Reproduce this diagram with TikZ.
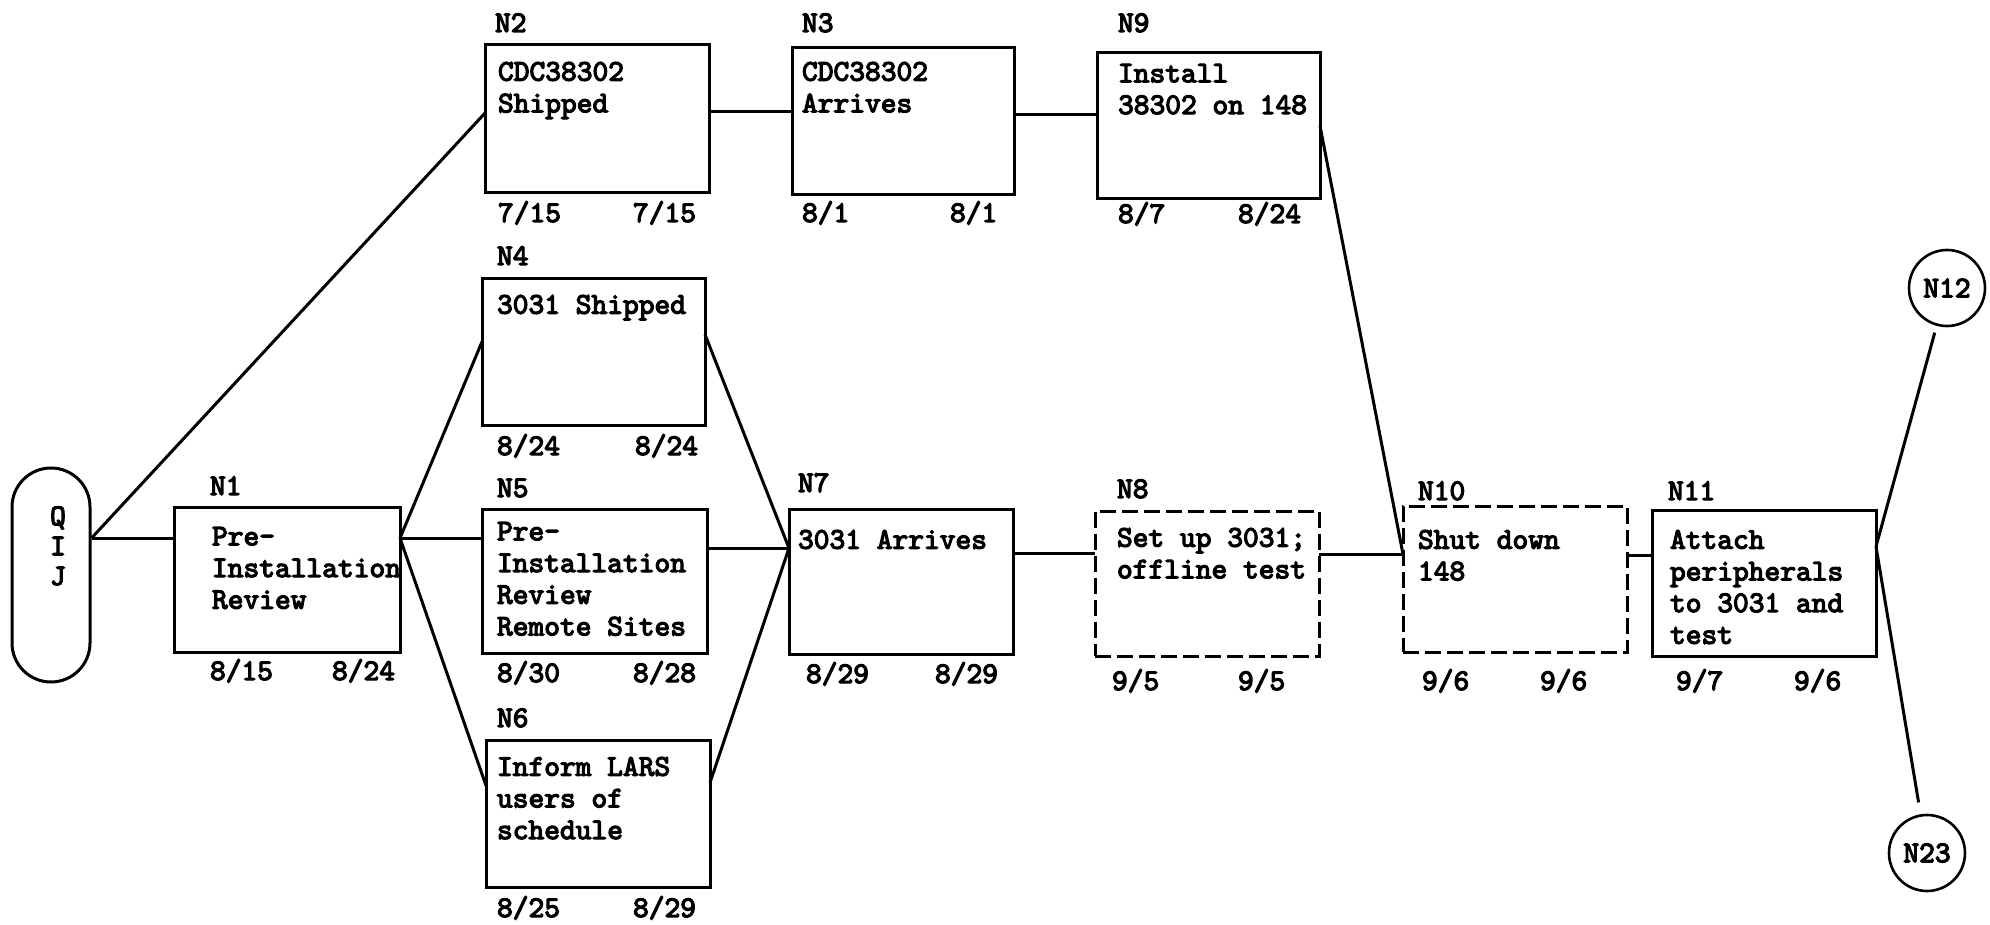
\documentclass[tikz,border=0pt]{standalone}
\usepackage{fontspec}
\usetikzlibrary{calc}
\newfontfamily\typew{lmmono10-regular.otf}[FakeBold=4]
\newcommand\boxfont{\typew\fontsize{30}{31.7}\selectfont}
\begin{document}
\begin{tikzpicture}[x=1pt,y=-1pt,
  box/.style={draw, line width=3pt, inner sep=0pt, outer sep=0pt, anchor=north west},
  dbox/.style={box, dash pattern=on 16pt off 6pt},
  txt/.style={inner sep=0pt, outer sep=0pt, anchor=north west, align=left, font=\boxfont},
  lbl/.style={inner sep=0pt, outer sep=0pt, anchor=base west, font=\boxfont},
  conn/.style={line width=3pt},
  event/.style={circle, draw, line width=2.6pt, minimum size=76pt, inner sep=0pt, font=\boxfont},
  capsule/.style={draw, line width=3pt, rounded corners=39pt, minimum width=78pt, minimum height=214pt, inner sep=0pt}]
\useasboundingbox (0,0) rectangle (1990,925);

% start capsule
\node[capsule] (qij) at (51,575) {};
\node[font=\typew\fontsize{30}{30}\selectfont, align=center, inner sep=0pt] (qijt) at (58,546) {Q\\I\\J};

% N1
\node[box, minimum width=226pt, minimum height=145pt] (n1) at (174,507) {};
\node[lbl] (n1l) at (210,495) {N1};
\node[txt] (n1t) at (212,527) {Pre-\\Installation\\Review};
\node[lbl] (n1a) at (210,680) {8/15};
\node[lbl] (n1b) at (332,680) {8/24};

% N2
\node[box, minimum width=224pt, minimum height=148pt] (n2) at (485,45) {};
\node[lbl] (n2l) at (495,32) {N2};
\node[txt] (n2t) at (498,62) {CDC38302\\Shipped};
\node[lbl] (n2a) at (498,222) {7/15};
\node[lbl] (n2b) at (633,222) {7/15};

% N3
\node[box, minimum width=222pt, minimum height=147pt] (n3) at (792,48) {};
\node[lbl] (n3l) at (802,32) {N3};
\node[txt] (n3t) at (802,62) {CDC38302\\Arrives};
\node[lbl] (n3a) at (802,222) {8/1};
\node[lbl] (n3b) at (950,222) {8/1};

% N9
\node[box, minimum width=223pt, minimum height=146pt] (n9) at (1097,53) {};
\node[lbl] (n9l) at (1118,32) {N9};
\node[txt] (n9t) at (1118,64) {Install\\38302 on 148};
\node[lbl] (n9a) at (1118,223) {8/7};
\node[lbl] (n9b) at (1238,223) {8/24};

% N4
\node[box, minimum width=223pt, minimum height=146pt] (n4) at (482,279) {};
\node[lbl] (n4l) at (497,265) {N4};
\node[txt] (n4t) at (497,295) {3031 Shipped};
\node[lbl] (n4a) at (497,455) {8/24};
\node[lbl] (n4b) at (635,455) {8/24};

% N5
\node[box, minimum width=225pt, minimum height=144pt] (n5) at (482,509) {};
\node[lbl] (n5l) at (497,497) {N5};
\node[txt] (n5t) at (497,522) {Pre-\\Installation\\Review\\Remote Sites};
\node[lbl] (n5a) at (497,682) {8/30};
\node[lbl] (n5b) at (633,682) {8/28};

% N6
\node[box, minimum width=224pt, minimum height=147pt] (n6) at (486,740) {};
\node[lbl] (n6l) at (497,727) {N6};
\node[txt] (n6t) at (497,757) {Inform LARS\\users of\\schedule};
\node[lbl] (n6a) at (497,917) {8/25};
\node[lbl] (n6b) at (633,917) {8/29};

% N7
\node[box, minimum width=224pt, minimum height=145pt] (n7) at (789,509) {};
\node[lbl] (n7l) at (798,492) {N7};
\node[txt] (n7t) at (798,530) {3031 Arrives};
\node[lbl] (n7a) at (806,683) {8/29};
\node[lbl] (n7b) at (935,683) {8/29};

% N8
\node[dbox, minimum width=224pt, minimum height=145pt] (n8) at (1095,511) {};
\node[lbl] (n8l) at (1117,498) {N8};
\node[txt] (n8t) at (1117,528) {Set up 3031;\\offline test};
\node[lbl] (n8a) at (1112,690) {9/5};
\node[lbl] (n8b) at (1238,690) {9/5};

% N10
\node[dbox, minimum width=224pt, minimum height=146pt] (n10) at (1403,506) {};
\node[lbl] (n10l) at (1418,500) {N10};
\node[txt] (n10t) at (1418,530) {Shut down\\148};
\node[lbl] (n10a) at (1422,690) {9/6};
\node[lbl] (n10b) at (1540,690) {9/6};

% N11
\node[box, minimum width=224pt, minimum height=146pt] (n11) at (1652,510) {};
\node[lbl] (n11l) at (1668,500) {N11};
\node[txt] (n11t) at (1670,530) {Attach\\peripherals\\to 3031 and\\test};
\node[lbl] (n11a) at (1676,690) {9/7};
\node[lbl] (n11b) at (1794,690) {9/6};

% end events
\node[event] (n12) at (1947,288) {N12};
\node[event] (n23) at (1927,853) {N23};

% connection points
\coordinate (qj) at ($(qij.north east)!0.33!(qij.south east)$);
\coordinate (n1o) at (n1.east |- qj);
\coordinate (n7i) at ($(n7.north west)!0.27!(n7.south west)$);
\coordinate (n10i) at ($(n10.north west)!0.33!(n10.south west)$);
\coordinate (n11o) at ($(n11.north east)!0.25!(n11.south east)$);

% connectors
\draw[conn] (qj) -- (qj -| n1.west);
\draw[conn] (qj) -- ($(n2.north west)!0.46!(n2.south west)$);
\draw[conn] (n1o) -- ($(n4.north west)!0.43!(n4.south west)$);
\draw[conn] (n1o) -- (n1o -| n5.west);
\draw[conn] (n1o) -- ($(n6.north west)!0.31!(n6.south west)$);
\draw[conn] ($(n2.north east)!0.45!(n2.south east)$) coordinate (c23) -- (c23 -| n3.west);
\draw[conn] ($(n3.north east)!0.45!(n3.south east)$) coordinate (c39) -- (c39 -| n9.west);
\draw[conn] ($(n4.north east)!0.38!(n4.south east)$) -- (n7i);
\draw[conn] (n7i -| n5.east) -- (n7i);
\draw[conn] ($(n6.north east)!0.29!(n6.south east)$) -- (n7i);
\draw[conn] ($(n7.north east)!0.31!(n7.south east)$) coordinate (c78) -- (c78 -| n8.west);
\draw[conn] (n10i -| n8.east) -- (n10i);
\draw[conn] ($(n9.north east)!0.5!(n9.south east)$) -- (n10i);
\draw[conn] ($(n10.north east)!0.34!(n10.south east)$) coordinate (c1011) -- (c1011 -| n11.west);
\draw[conn, shorten >=7pt] (n11o) -- (n12);
\draw[conn, shorten >=12pt] (n11o) -- (n23);
\end{tikzpicture}
\end{document}
